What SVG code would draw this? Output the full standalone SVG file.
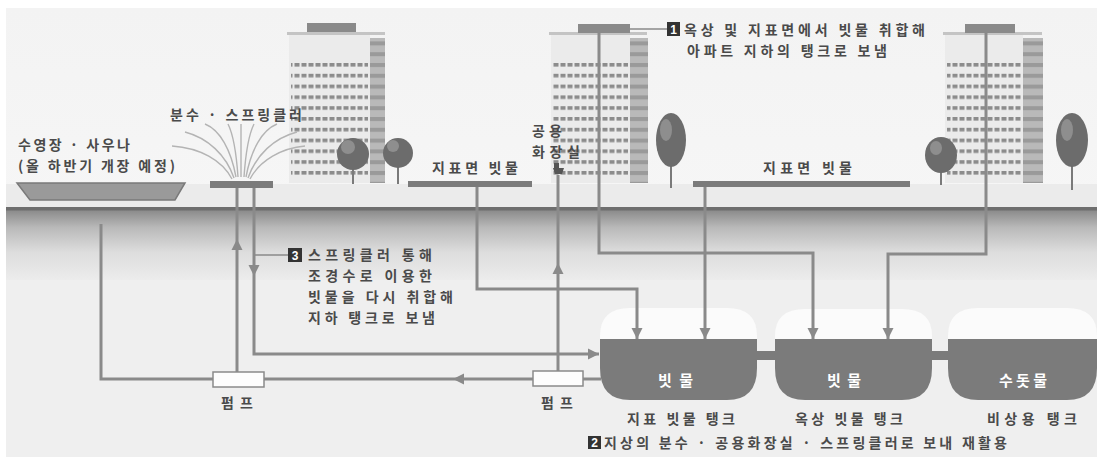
<svg xmlns="http://www.w3.org/2000/svg" width="1102" height="461" viewBox="0 0 1102 461">
  <defs>
    <style>
      .t { font-family: "Noto Sans CJK KR", "Noto Sans", sans-serif; font-weight: 700; font-size: 14px; fill: #4a4a4a; }
      .tw { font-family: "Noto Sans CJK KR", "Noto Sans", sans-serif; font-weight: 700; font-size: 15px; fill: #ffffff; }
      .num { font-family: "Liberation Sans", sans-serif; font-weight: 700; font-size: 12px; fill: #ffffff; text-anchor: middle; }
      .pipe { fill: none; stroke: #8a8a8a; stroke-width: 3; stroke-linejoin: miter; }
      .lead { fill: none; stroke: #8a8a8a; stroke-width: 1.5; }
      .spray { fill: none; stroke: #b4b4b4; stroke-width: 1.4; }
      .slab { fill: #7b7b7b; }
      .tank { fill: #7b7b7b; }
      .dome { fill: #fbfbfb; }
      .badge { fill: #333333; }
      .crown { fill: #6c6c6c; }
      .crownhi { fill: #8e8e8e; }
      .trunk { stroke: #7a7a7a; stroke-width: 2; }
      .body { fill: #ebebeb; }
      .column { fill: url(#colstripe); }
      .roof { fill: #8a8a8a; }
      .ledge { fill: #c4c4c4; }
      .pump { fill: #fdfdfd; stroke: #8a8a8a; stroke-width: 1.5; }
    </style>
    <marker id="arr" viewBox="0 0 10 10" refX="10" refY="5" markerWidth="11" markerHeight="12" markerUnits="userSpaceOnUse" orient="auto">
      <path d="M0,0 L10,5 L0,10 z" fill="#8a8a8a"/>
    </marker>
    <pattern id="win" width="7" height="10.8" patternUnits="userSpaceOnUse" x="0" y="63">
      <rect x="0.5" y="0" width="5" height="3.6" fill="#8c8c8c"/>
    </pattern>
    <pattern id="colstripe" width="20" height="10.8" patternUnits="userSpaceOnUse" x="0" y="63">
      <rect width="20" height="10.8" fill="#b9b9b9"/>
      <rect y="0" width="20" height="4" fill="#9a9a9a"/>
    </pattern>
    <linearGradient id="soil" x1="0" y1="0" x2="0" y2="1">
      <stop offset="0" stop-color="#8a8a8a"/>
      <stop offset="0.25" stop-color="#b9b9b9"/>
      <stop offset="0.6" stop-color="#dddddd"/>
      <stop offset="1" stop-color="#ececec"/>
    </linearGradient>
    <linearGradient id="sky" x1="0" y1="0" x2="0" y2="1">
      <stop offset="0" stop-color="#f3f3f3"/>
      <stop offset="1" stop-color="#f6f6f6"/>
    </linearGradient>
  </defs>

  <!-- frame and background -->
  <rect width="1102" height="461" fill="#ffffff"/>
  <rect x="6" y="8" width="1091" height="449" fill="#efefef"/>
  <rect x="6" y="8" width="1091" height="200" fill="url(#sky)"/>
  <rect x="6" y="184" width="1091" height="24" fill="#ebebeb"/>
  <!-- ground -->
  <rect x="6" y="210" width="1091" height="70" fill="url(#soil)"/>
  <rect x="6" y="207" width="1091" height="3.5" fill="#6e6e6e"/>

  <!-- apartment buildings -->
  <g id="building-left">
    <rect class="ledge" x="287" y="32" width="98" height="3"/>
    <rect class="roof" x="307" y="23" width="49" height="9"/>
    <rect class="body" x="289" y="35" width="81" height="148"/>
    <rect x="291" y="63" width="77" height="116" fill="url(#win)"/>
    <rect class="column" x="370" y="38" width="15" height="145"/>
  </g>
  <g id="building-middle">
    <rect class="ledge" x="549" y="32" width="98" height="3"/>
    <rect class="roof" x="578" y="24" width="52" height="9"/>
    <rect class="body" x="551" y="35" width="79" height="148"/>
    <rect x="553" y="63" width="75" height="116" fill="url(#win)"/>
    <rect class="column" x="630" y="38" width="18" height="145"/>
  </g>
  <g id="building-right">
    <rect class="ledge" x="943" y="32" width="99" height="3"/>
    <rect class="roof" x="965" y="24" width="50" height="9"/>
    <rect class="body" x="945" y="35" width="78" height="148"/>
    <rect x="947" y="63" width="74" height="116" fill="url(#win)"/>
    <rect class="column" x="1023" y="38" width="20" height="145"/>
  </g>

  <!-- trees -->
  <g id="trees">
    <line class="trunk" x1="353" y1="160" x2="353" y2="184"/>
    <ellipse class="crown" cx="353" cy="154" rx="16" ry="16"/>
    <ellipse class="crownhi" cx="348" cy="147" rx="7" ry="7"/>
    <line class="trunk" x1="398" y1="160" x2="398" y2="184"/>
    <ellipse class="crown" cx="398" cy="153" rx="15" ry="15"/>
    <ellipse class="crownhi" cx="393" cy="146" rx="6" ry="6"/>
    <line class="trunk" x1="671" y1="150" x2="671" y2="188"/>
    <ellipse class="crown" cx="671" cy="140" rx="15" ry="27"/>
    <ellipse class="crownhi" cx="666" cy="130" rx="6" ry="11"/>
    <line class="trunk" x1="941" y1="160" x2="941" y2="185"/>
    <ellipse class="crown" cx="941" cy="155" rx="16" ry="18"/>
    <ellipse class="crownhi" cx="936" cy="148" rx="6" ry="7"/>
    <line class="trunk" x1="1072" y1="150" x2="1072" y2="190"/>
    <ellipse class="crown" cx="1072" cy="140" rx="16" ry="27"/>
    <ellipse class="crownhi" cx="1067" cy="130" rx="6" ry="11"/>
  </g>

  <!-- pool -->
  <g id="pool">
    <path d="M17,183 L185,183 L175,200 L30,200 Z" fill="#9a9a9a" stroke="#7a7a7a" stroke-width="1.5"/>
    <text class="t" x="18" y="150" textLength="112" lengthAdjust="spacing">수영장 · 사우나</text>
    <text class="t" x="18" y="170.5" textLength="157" lengthAdjust="spacing">(올 하반기 개장 예정)</text>
  </g>

  <!-- fountain and sprinkler -->
  <g id="fountain">
    <path class="spray" d="M232,179 C222,160 200,148 172,146"/>
    <path class="spray" d="M234,178 C226,155 208,138 185,132"/>
    <path class="spray" d="M236,177 C231,150 220,130 205,124"/>
    <path class="spray" d="M238,177 C236,148 232,132 228,124"/>
    <path class="spray" d="M241,177 L241,124"/>
    <path class="spray" d="M244,177 C246,148 250,132 254,124"/>
    <path class="spray" d="M246,177 C251,150 262,130 277,124"/>
    <path class="spray" d="M248,178 C256,155 274,138 297,132"/>
    <path class="spray" d="M250,179 C260,160 282,148 305,146"/>
    <rect class="slab" x="210" y="181" width="63" height="7"/>
    <text class="t" x="170" y="119.5" textLength="132" lengthAdjust="spacing">분수 · 스프링클러</text>
  </g>

  <!-- public toilet -->
  <g id="toilet">
    <text class="t" x="532" y="135.5" textLength="30" lengthAdjust="spacing">공용</text>
    <text class="t" x="532" y="157" textLength="48" lengthAdjust="spacing">화장실</text>
    <rect x="554" y="163" width="5" height="6" fill="#555555"/>
    <path d="M553,168 L564,168 L562,174 L555,174 Z" fill="#555555"/>
  </g>

  <!-- surface rainwater collectors -->
  <g id="surface-left">
    <rect class="slab" x="408" y="181" width="124" height="6"/>
    <text class="t" x="432" y="172.5" textLength="86" lengthAdjust="spacing">지표면 빗물</text>
  </g>
  <g id="surface-right">
    <rect class="slab" x="693" y="181" width="217" height="6"/>
    <text class="t" x="763" y="172.5" textLength="89" lengthAdjust="spacing">지표면 빗물</text>
  </g>

  <!-- underground tanks -->
  <g id="tank-links">
    <rect class="tank" x="755" y="351" width="22" height="9"/>
    <rect class="tank" x="930" y="351" width="20" height="9"/>
  </g>
  <g id="tank-surface">
    <path class="dome" d="M600,340 L600,336 Q600,308 630,308 L727,308 Q757,308 757,336 L757,340 Z"/>
    <path class="tank" d="M600,339 L757,339 L757,368 Q757,400 727,400 L630,400 Q600,400 600,368 Z"/>
    <text class="tw" x="658" y="386" textLength="35" lengthAdjust="spacing">빗물</text>
    <text class="t" x="627" y="423.5" textLength="108" lengthAdjust="spacing">지표 빗물 탱크</text>
  </g>
  <g id="tank-roof">
    <path class="dome" d="M775,340 L775,336 Q775,309 805,309 L902,309 Q932,309 932,336 L932,340 Z"/>
    <path class="tank" d="M775,339 L932,339 L932,368 Q932,400 902,400 L805,400 Q775,400 775,368 Z"/>
    <text class="tw" x="827" y="386" textLength="34" lengthAdjust="spacing">빗물</text>
    <text class="t" x="795" y="423.5" textLength="108" lengthAdjust="spacing">옥상 빗물 탱크</text>
  </g>
  <g id="tank-emergency">
    <path class="dome" d="M948,340 L948,336 Q948,308 978,308 L1067,308 Q1097,308 1097,336 L1097,340 Z"/>
    <path class="tank" d="M948,339 L1097,339 L1097,368 Q1097,400 1067,400 L978,400 Q948,400 948,368 Z"/>
    <text class="tw" x="999" y="386" textLength="48" lengthAdjust="spacing">수돗물</text>
    <text class="t" x="987" y="423.5" textLength="90" lengthAdjust="spacing">비상용 탱크</text>
  </g>

  <!-- connectors -->
  <g id="connectors">
    <!-- pool return line to pump 1 -->
    <path class="pipe" d="M101,224 L101,379 L213,379"/>
    <!-- pump 1 up to fountain -->
    <path class="pipe" d="M237,372 L237,239" marker-end="url(#arr)"/>
    <path class="pipe" d="M237,239 L237,188"/>
    <!-- sprinkler water collected back to the ground tank -->
    <path class="pipe" d="M254,188 L254,276" marker-end="url(#arr)"/>
    <path class="pipe" d="M254,276 L254,354 L599,354" marker-end="url(#arr)"/>
    <!-- pump 2 to pump 1 -->
    <path class="pipe" d="M533,379 L453,379" marker-end="url(#arr)"/>
    <path class="pipe" d="M453,379 L264,379"/>
    <!-- tank to pump 2 -->
    <path class="pipe" d="M601,379 L583,379"/>
    <!-- pump 2 up to public toilet -->
    <path class="pipe" d="M558,371 L558,263" marker-end="url(#arr)"/>
    <path class="pipe" d="M558,263 L558,175"/>
    <!-- surface rainwater 1 -->
    <path class="pipe" d="M477,187 L477,289 L637,289 L637,339" marker-end="url(#arr)"/>
    <!-- surface rainwater 2 -->
    <path class="pipe" d="M705,187 L705,339" marker-end="url(#arr)"/>
    <!-- roof of middle building -->
    <path class="pipe" d="M599,33 L599,253 L813,253 L813,339" marker-end="url(#arr)"/>
    <!-- roof of right building -->
    <path class="pipe" d="M986,33 L986,254 L888,254 L888,339" marker-end="url(#arr)"/>
    <!-- leaders -->
    <path class="lead" d="M254,255 L288,255"/>
    <path class="lead" d="M630,29 L667,29"/>
  </g>

  <!-- pumps -->
  <g id="pump-1">
    <rect class="pump" x="213" y="372" width="51" height="15"/>
    <text class="t" x="221" y="407.5" textLength="32" lengthAdjust="spacing">펌프</text>
  </g>
  <g id="pump-2">
    <rect class="pump" x="533" y="371" width="50" height="15"/>
    <text class="t" x="541" y="407.5" textLength="32" lengthAdjust="spacing">펌프</text>
  </g>

  <!-- callout 1 -->
  <g id="note-1">
    <rect class="badge" x="667" y="22" width="13" height="14"/>
    <text class="num" x="673.5" y="33.5">1</text>
    <text class="t" x="684" y="35" textLength="241" lengthAdjust="spacing">옥상 및 지표면에서 빗물 취합해</text>
    <text class="t" x="687" y="55.5" textLength="200" lengthAdjust="spacing">아파트 지하의 탱크로 보냄</text>
  </g>

  <!-- callout 3 -->
  <g id="note-3">
    <rect class="badge" x="288" y="248" width="14" height="14"/>
    <text class="num" x="295" y="259.5">3</text>
    <text class="t" x="308" y="260" textLength="124" lengthAdjust="spacing">스프링클러 통해</text>
    <text class="t" x="308" y="281" textLength="124" lengthAdjust="spacing">조경수로 이용한</text>
    <text class="t" x="308" y="302" textLength="145" lengthAdjust="spacing">빗물을 다시 취합해</text>
    <text class="t" x="308" y="323" textLength="127" lengthAdjust="spacing">지하 탱크로 보냄</text>
  </g>

  <!-- callout 2 -->
  <g id="note-2">
    <rect class="badge" x="588" y="436" width="13" height="13"/>
    <text class="num" x="594.5" y="447">2</text>
    <text class="t" x="604" y="447.5" textLength="403" lengthAdjust="spacing">지상의 분수 · 공용화장실 · 스프링클러로 보내 재활용</text>
  </g>
</svg>
